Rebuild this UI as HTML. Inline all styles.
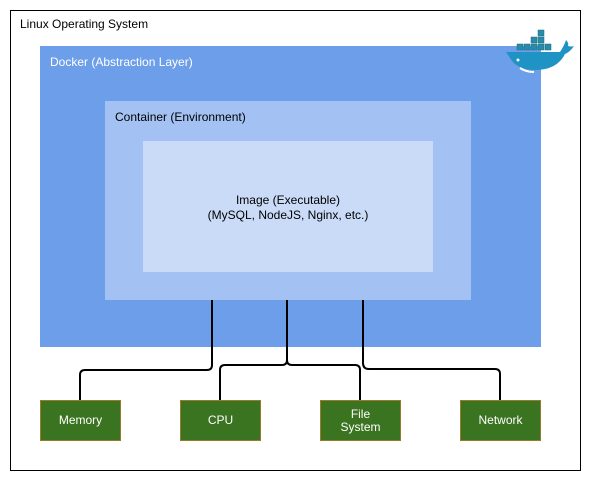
<!DOCTYPE html>
<html><head><style>
body{margin:0;width:606px;height:490px;background:#fff;font-family:"Liberation Sans",Arial,sans-serif;position:relative;overflow:hidden}
div{position:absolute;box-sizing:border-box}
.t{font-size:12px;color:#000}
.g{background:#3a7420;border:1px solid #9b7a2a;color:#fff;font-size:12px;display:flex;align-items:center;justify-content:center;text-align:center;line-height:13px;width:81px;height:41px;top:400px}
</style></head><body>
<div style="left:10px;top:10px;width:571px;height:461px;border:1px solid #000"></div>
<div class="t" style="left:20px;top:17px">Linux Operating System</div>
<div style="left:40px;top:46px;width:501px;height:301px;background:#6c9ee9"></div>
<div class="t" style="left:50px;top:55px;color:#fff">Docker (Abstraction Layer)</div>
<div style="left:105px;top:101px;width:366px;height:199px;background:#a3c2f3"></div>
<div class="t" style="left:115px;top:110px">Container (Environment)</div>
<div style="left:143px;top:141px;width:290px;height:131px;background:#c9dbf7"></div>
<div class="t" style="left:143px;top:193px;width:290px;text-align:center;line-height:15px">Image (Executable)<br>(MySQL, NodeJS, Nginx, etc.)</div>
<svg style="position:absolute;left:0;top:0" width="606" height="490">
<g fill="none" stroke="#000" stroke-width="2">
<path d="M212 300V365q0 5-5 5H85q-5 0-5 5V400"/>
<path d="M287 300V360q0 5-5 5H225q-5 0-5 5V400"/>
<path d="M287 360q0 5 5 5H355q5 0 5 5V400"/>
<path d="M363 300V363q0 6 6 6H495q5 0 5 5V400"/>
</g>
<g transform="translate(500,28)">
<g fill="#2a8aa8" stroke="#1d6f87" stroke-width="0.5">
<rect x="24" y="16" width="6" height="6"/><rect x="31" y="16" width="6" height="6"/><rect x="38" y="16" width="6" height="6"/>
<rect x="31" y="9" width="6" height="6"/><rect x="38" y="9" width="6" height="6"/>
<rect x="38" y="2" width="6" height="6"/>
<rect x="17" y="16" width="6" height="6"/><rect x="45" y="16" width="6" height="6"/>
</g>
<path d="M6 24H60q4-6 6-12 3 3 2 6 4 1 6 0-4 6-9 8-8 16-30 16-18 0-25-12z" fill="#1f94c4"/>
<path d="M20 40q6 4 14 4" stroke="#fff" stroke-width="2" fill="none"/>
<circle cx="18" cy="32" r="1.5" fill="#fff"/>
</g>
</svg>
<div class="g" style="left:40px">Memory</div>
<div class="g" style="left:180px">CPU</div>
<div class="g" style="left:320px">File<br>System</div>
<div class="g" style="left:460px">Network</div>
</body></html>
